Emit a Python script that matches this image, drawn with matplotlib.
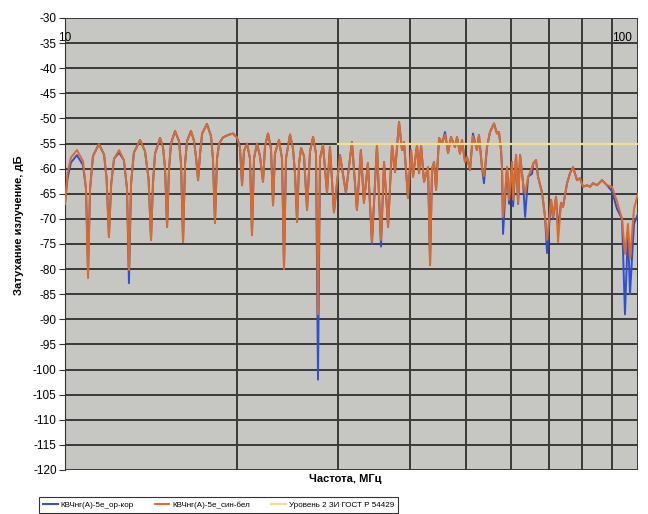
import matplotlib
matplotlib.use("Agg")
import matplotlib.pyplot as plt
from matplotlib.ticker import FixedLocator, NullFormatter

plt.rcParams['font.family'] = ['Liberation Sans', 'DejaVu Sans']
plt.rcParams['axes.unicode_minus'] = False

# frequency, MHz
freq = [
    10.00, 10.10, 10.24, 10.49, 10.75, 10.88, 10.97, 11.06, 11.19, 11.46,
    11.70, 11.82, 11.93, 12.04, 12.18, 12.43, 12.67, 12.83, 12.93, 13.04,
    13.19, 13.52, 13.79, 13.99, 14.13, 14.24, 14.36, 14.65, 14.83, 14.95,
    15.07, 15.19, 15.31, 15.56, 15.81, 15.94, 16.07, 16.20, 16.33, 16.59,
    16.80, 16.94, 17.07, 17.21, 17.35, 17.69, 17.98, 18.12, 18.27, 18.42,
    18.58, 18.86, 19.25, 19.64, 19.96, 20.20, 20.37, 20.53, 20.78, 21.03,
    21.20, 21.37, 21.63, 21.89, 22.16, 22.34, 22.61, 22.88, 23.07, 23.25,
    23.63, 23.92, 24.11, 24.30, 24.70, 25.00, 25.20, 25.41, 25.61, 25.82,
    26.13, 26.45, 26.77, 27.10, 27.42, 27.64, 27.86, 28.20, 28.66, 29.00,
    29.47, 30.19, 30.92, 31.68, 32.32, 32.84, 33.24, 33.78, 34.33, 35.03,
    35.60, 36.04, 36.63, 37.22, 37.67, 38.28, 38.74, 39.05, 39.68, 40.17,
    40.49, 41.15, 41.48, 41.82, 42.32, 43.01, 43.36, 43.71, 44.06, 44.42,
    44.96, 45.50, 46.05, 46.61, 47.17, 47.93, 48.32, 48.90, 49.30, 49.90,
    50.30, 50.91, 51.52, 52.36, 52.78, 53.42, 53.85, 54.51, 55.17, 56.06,
    56.74, 57.20, 57.67, 57.90, 58.14, 58.61, 59.08, 59.56, 60.28, 60.53,
    61.26, 61.76, 62.26, 63.02, 63.53, 64.30, 65.34, 65.60, 66.38, 66.92,
    68.01, 68.83, 69.39, 70.51, 71.08, 71.94, 72.52, 73.40, 73.99, 75.19,
    76.10, 77.02, 78.27, 79.22, 80.17, 81.47, 82.46, 83.46, 84.81, 86.53,
    88.29, 90.08, 91.90, 93.78, 94.90, 96.05, 96.83, 98.40, 100.0,
]

# КВЧнг(А)-5е_син-бел
orange = [
    -67.0, -61.0, -57.8, -56.3, -58.5, -64.0, -81.8, -64.0, -57.5, -55.1,
    -57.2, -62.0, -73.6, -63.0, -58.0, -56.3, -58.3, -64.0, -80.2, -63.0,
    -56.8, -54.3, -56.5, -62.0, -74.2, -63.0, -57.0, -53.9, -55.8, -60.0,
    -71.6, -60.0, -55.0, -52.5, -54.5, -59.0, -74.6, -59.0, -54.5, -52.5,
    -54.5, -58.0, -62.3, -57.0, -53.0, -51.1, -53.5, -58.0, -70.8, -58.0,
    -55.0, -53.8, -53.3, -53.0, -53.8, -55.7, -63.3, -56.5, -55.0, -58.0,
    -73.2, -58.0, -55.0, -57.5, -62.6, -55.5, -53.0, -56.0, -67.3, -57.0,
    -54.3, -58.0, -80.0, -58.0, -53.2, -56.0, -61.0, -70.6, -59.0, -55.9,
    -57.5, -68.2, -56.5, -53.7, -57.0, -89.0, -58.0, -55.3, -64.8, -55.7,
    -68.7, -57.3, -64.8, -54.7, -68.2, -56.3, -66.8, -58.9, -74.6, -55.3,
    -74.2, -58.7, -71.6, -55.3, -60.7, -50.7, -56.3, -54.7, -65.8, -56.3,
    -61.6, -55.3, -60.9, -55.3, -62.6, -59.7, -79.2, -60.0, -58.7, -64.2,
    -53.9, -55.0, -53.2, -56.9, -53.7, -55.7, -53.7, -57.0, -54.3, -58.7,
    -57.7, -60.3, -53.5, -56.3, -53.3, -59.7, -61.5, -55.7, -52.7, -51.0,
    -53.0, -52.7, -56.3, -59.7, -69.6, -64.8, -59.7, -66.2, -58.7, -66.2,
    -57.3, -66.8, -57.3, -62.9, -65.0, -61.6, -59.7, -59.0, -58.3, -61.6,
    -64.8, -69.6, -74.2, -66.2, -69.6, -65.6, -74.6, -66.8, -67.6, -62.9,
    -60.9, -59.7, -62.3, -61.9, -63.6, -63.3, -63.6, -62.9, -63.3, -62.3,
    -63.3, -63.6, -66.5, -70.0, -77.0, -71.0, -78.0, -68.0, -65.0,
]

# КВЧнг(А)-5е_ор-кор
blue = [
    -67.0, -62.0, -58.8, -57.3, -59.3, -64.0, -80.5, -64.0, -57.5, -55.1,
    -57.2, -62.0, -73.6, -63.0, -58.0, -56.8, -58.3, -64.0, -82.8, -63.0,
    -56.8, -54.3, -56.5, -62.0, -74.2, -63.0, -57.0, -53.9, -55.8, -60.0,
    -71.6, -60.0, -55.0, -52.5, -54.5, -59.0, -74.6, -59.0, -54.5, -52.5,
    -54.5, -58.0, -62.3, -57.0, -53.0, -51.1, -53.5, -58.0, -70.8, -58.0,
    -55.0, -53.8, -53.3, -53.0, -53.8, -55.7, -63.3, -56.5, -55.0, -58.0,
    -73.2, -58.0, -55.0, -57.5, -62.6, -55.5, -53.0, -56.0, -67.3, -57.0,
    -54.3, -58.0, -80.0, -58.0, -53.2, -56.0, -61.0, -70.6, -59.0, -55.9,
    -57.5, -68.2, -56.5, -53.7, -57.0, -102.0, -58.0, -55.3, -64.8, -55.7,
    -68.7, -57.3, -64.8, -54.7, -68.2, -56.3, -66.8, -58.9, -75.0, -55.3,
    -75.5, -58.7, -71.6, -55.3, -60.7, -50.7, -56.3, -54.7, -65.8, -56.3,
    -61.6, -55.3, -60.9, -55.3, -62.6, -59.7, -79.2, -60.0, -58.7, -64.2,
    -53.9, -55.0, -52.7, -56.9, -53.7, -55.7, -53.7, -57.0, -54.3, -58.7,
    -57.7, -60.3, -53.0, -56.3, -53.3, -59.7, -62.9, -55.7, -52.7, -51.0,
    -53.0, -52.7, -56.3, -59.7, -73.0, -66.0, -59.7, -67.0, -58.7, -67.5,
    -57.3, -67.0, -57.3, -62.9, -69.6, -61.6, -61.0, -59.0, -58.3, -61.6,
    -64.8, -69.6, -76.8, -66.2, -70.0, -65.6, -72.0, -66.8, -67.6, -62.9,
    -60.9, -59.7, -62.3, -61.9, -63.6, -63.3, -63.6, -62.9, -63.3, -62.3,
    -63.3, -64.5, -68.0, -70.0, -89.0, -72.0, -85.0, -71.0, -69.0,
]

# Уровень 2 ЗИ ГОСТ Р 54429
limit_freq = [30, 100]
limit_db = [-55, -55]

fig = plt.figure(figsize=(6.48, 5.14), dpi=100)
ax = fig.add_axes([65 / 648, 44 / 514, 573 / 648, 452 / 514])
ax.set_facecolor('#C6C6C2')

ax.plot(freq, blue, color='#2E50D0', lw=1.4, label='КВЧнг(А)-5е_ор-кор', zorder=3)
ax.plot(freq, orange, color='#E06A24', lw=1.4, label='КВЧнг(А)-5е_син-бел', zorder=4)
ax.plot(limit_freq, limit_db, color='#F2E08A', lw=1.6, label='Уровень 2 ЗИ ГОСТ Р 54429', zorder=5)

ax.set_xscale('log')
ax.set_xlim(10, 100)
ax.set_ylim(-120, -30)
ax.xaxis.set_major_locator(FixedLocator([10, 100]))
ax.xaxis.set_minor_locator(FixedLocator([20, 30, 40, 50, 60, 70, 80, 90]))
ax.xaxis.set_major_formatter(NullFormatter())
ax.xaxis.set_minor_formatter(NullFormatter())
ax.tick_params(axis='x', which='both', length=0)
ax.set_yticks(range(-120, -29, 5))
ax.tick_params(axis='y', labelsize=8.5, length=4, width=0.8, color='#333333', pad=2)
ax.grid(True, which='both', color='#3A3A3A', lw=1.4)
ax.set_axisbelow(True)
for s in ['top', 'right', 'bottom']:
    ax.spines[s].set_visible(False)
ax.spines['left'].set_color('#333333')

ax.text(10, -34, '10', ha='center', va='center', fontsize=8.5)
ax.text(97.5, -34, '100', ha='right', va='center', fontsize=8.5)

fig.text(345 / 648, 1 - 479 / 514, 'Частота, МГц', ha='center', va='center',
         fontsize=8, fontweight='bold')
fig.text(19 / 648, 1 - 225 / 514, 'Затухание излучение, дБ', ha='center', va='center',
         rotation=90, fontsize=8, fontweight='bold')

leg = fig.legend(loc='lower left', bbox_to_anchor=(35 / 648, -0.005), ncol=3,
                 fontsize=5.8, frameon=True, fancybox=False, edgecolor='black',
                 handlelength=1.8, handletextpad=0.4, columnspacing=2.6, borderpad=0.5)
leg.get_frame().set_linewidth(0.8)

fig.savefig('out.png', dpi=100)
